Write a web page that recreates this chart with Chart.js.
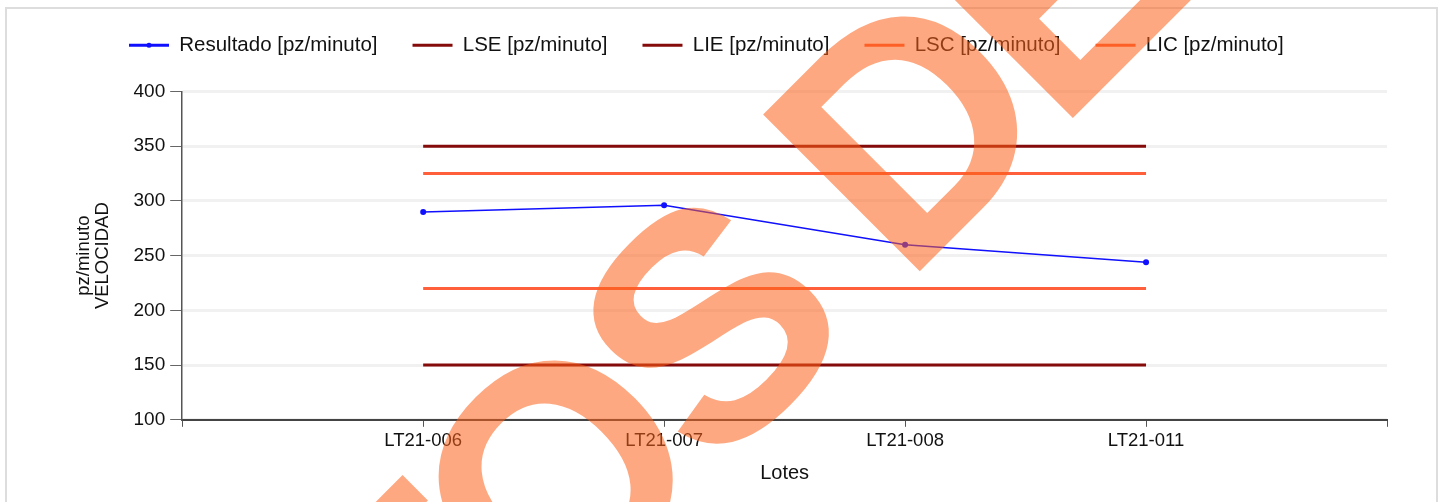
<!DOCTYPE html>
<html>
<head>
<meta charset="utf-8">
<script src="https://cdn.jsdelivr.net/npm/chart.js@4/dist/chart.umd.min.js"></script>
<style>
  html, body { margin: 0; padding: 0; background: #fff; overflow: hidden; }
  #marco { position: absolute; left: 5px; top: 7px; width: 1429px; height: 600px; border: 2px solid #dddddd; }
  #grafica { position: absolute; left: 0; top: 0; }
</style>
</head>
<body>
<div id="marco"></div>
<canvas id="grafica" width="1439" height="502"></canvas>
<script>
  const lotes = ["", "LT21-006", "LT21-007", "LT21-008", "LT21-011", ""];
  const resultado = [null, 290, 296, 260, 244, null];
  const lse = [null, 350, 350, 350, 350, null];
  const lie = [null, 150, 150, 150, 150, null];
  const lsc = [null, 325, 325, 325, 325, null];
  const lic = [null, 220, 220, 220, 220, null];

  const yMin = 100;
  const yMax = 400;
  const yPaso = 50;

  Chart.defaults.font.family = '"Liberation Sans", Arial, sans-serif';
  Chart.defaults.color = "#111";

  // agranda el alto de la leyenda para separar el area del grafico
  const espacioLeyenda = {
    id: "espacioLeyenda",
    beforeInit(chart) {
      const fitOriginal = chart.legend.fit;
      chart.legend.fit = function () {
        fitOriginal.bind(chart.legend)();
        this.height += 26;
      };
    },
    afterLayout(chart) {
      chart.legend.left = 94;
    },
  };

  // punto azul sobre la muestra de "Resultado" y marca de agua
  const extras = {
    id: "extras",
    afterDraw(chart) {
      const ctx = chart.ctx;
      const caja = chart.legend.legendHitBoxes[0];
      if (caja) {
        ctx.save();
        ctx.fillStyle = "#1010ff";
        ctx.beginPath();
        ctx.arc(caja.left + 20, caja.top + caja.height / 2, 2.5, 0, Math.PI * 2);
        ctx.fill();
        ctx.restore();
      }

      ctx.save();
      ctx.translate(706, 321);
      ctx.rotate(-Math.PI / 4);
      const tam = 322;
      const esp = -16;
      ctx.font = 'bold ' + tam + 'px "Liberation Sans", Arial, sans-serif';
      ctx.fillStyle = "rgba(251, 97, 24, 0.55)";
      ctx.textBaseline = "alphabetic";
      const antes = ctx.measureText("DOCUMENTO").width + 9 * esp;
      const anchoS = ctx.measureText("S").width;
      ctx.letterSpacing = esp + "px";
      ctx.fillText("DOCUMENTOS DE USO", -antes - anchoS / 2, 0.36 * tam);
      ctx.restore();
    },
  };

  const ctx = document.getElementById("grafica");

  new Chart(ctx, {
    type: "line",
    data: {
      labels: lotes,
      datasets: [
        {
          label: "Resultado [pz/minuto]",
          data: resultado,
          borderColor: "#1010ff",
          backgroundColor: "#1010ff",
          borderWidth: 1.5,
          pointRadius: 3,
          pointBorderWidth: 0,
          pointBackgroundColor: "#1010ff",
          tension: 0,
        },
        {
          label: "LSE [pz/minuto]",
          data: lse,
          borderColor: "#850b0b",
          backgroundColor: "#850b0b",
          borderWidth: 3,
          pointRadius: 0,
        },
        {
          label: "LIE [pz/minuto]",
          data: lie,
          borderColor: "#850b0b",
          backgroundColor: "#850b0b",
          borderWidth: 3,
          pointRadius: 0,
        },
        {
          label: "LSC [pz/minuto]",
          data: lsc,
          borderColor: "#ff5f3a",
          backgroundColor: "#ff5f3a",
          borderWidth: 3,
          pointRadius: 0,
        },
        {
          label: "LIC [pz/minuto]",
          data: lic,
          borderColor: "#ff5f3a",
          backgroundColor: "#ff5f3a",
          borderWidth: 3,
          pointRadius: 0,
        },
      ],
    },

    options: {
      responsive: false,
      animation: false,
      layout: {
        padding: { top: 0, left: 70, right: 52, bottom: 14 },
      },

      plugins: {
        legend: {
          position: "top",
          align: "start",
          labels: {
            boxWidth: 40,
            boxHeight: 3,
            padding: 35,
            font: { size: 20.5 },
            color: "#111",
            generateLabels: function (chart) {
              const items = Chart.defaults.plugins.legend.labels.generateLabels(chart);
              return items.map(function (it) {
                it.lineWidth = 0;
                return it;
              });
            },
          },
        },
        tooltip: { enabled: false },
      },

      scales: {
        x: {
          offset: false,
          grid: {
            drawOnChartArea: false,
            drawTicks: true,
            tickLength: 7,
            tickColor: "#555",
            tickWidth: 1,
          },
          border: { color: "#444", width: 2 },
          ticks: {
            autoSkip: false,
            maxRotation: 0,
            padding: 3,
            font: { size: 18.5 },
            color: "#111",
          },
          title: {
            display: true,
            text: "Lotes",
            font: { size: 20 },
            color: "#111",
            padding: { top: 6, bottom: 3 },
          },
        },

        y: {
          min: yMin,
          max: yMax,
          grid: {
            color: "#f1f1f1",
            lineWidth: 3,
            tickLength: 12,
            tickColor: "#666",
            tickWidth: 1,
          },
          border: { color: "#555", width: 1.5 },
          ticks: {
            stepSize: yPaso,
            padding: 5,
            font: { size: 19 },
            color: "#111",
          },
          title: {
            display: true,
            text: ["pz/minuto", "VELOCIDAD"],
            font: { size: 18.5, lineHeight: 1 },
            color: "#111",
            padding: { top: 5, bottom: 16.5 },
          },
        },
      },
    },
    plugins: [espacioLeyenda, extras],
  });
</script>
</body>
</html>
